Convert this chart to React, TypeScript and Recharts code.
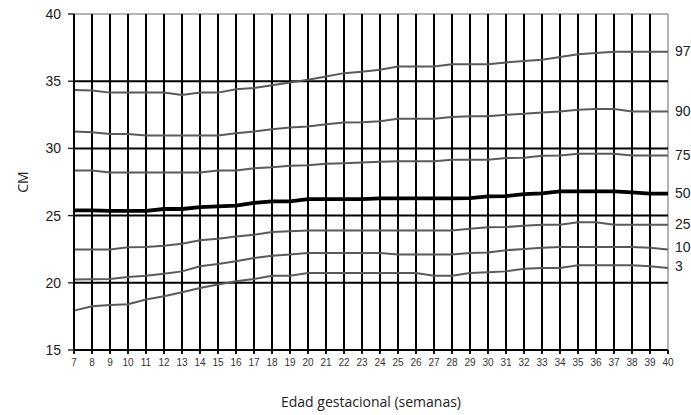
import React from "react";
import { LineChart, Line, XAxis, YAxis, ReferenceLine } from "recharts";

const weeks = [7, 8, 9, 10, 11, 12, 13, 14, 15, 16, 17, 18, 19, 20, 21, 22, 23, 24, 25, 26, 27, 28, 29, 30, 31, 32, 33, 34, 35, 36, 37, 38, 39, 40];

const p97 = [34.35, 34.3, 34.15, 34.15, 34.15, 34.15, 33.98, 34.15, 34.15, 34.4, 34.5, 34.7, 34.9, 35.1, 35.35, 35.6, 35.7, 35.85, 36.1, 36.1, 36.1, 36.26, 36.26, 36.26, 36.4, 36.5, 36.6, 36.8, 37.0, 37.1, 37.2, 37.2, 37.2, 37.2];
const p90 = [31.26, 31.2, 31.08, 31.08, 30.96, 30.96, 30.96, 30.96, 30.96, 31.13, 31.26, 31.43, 31.55, 31.63, 31.8, 31.93, 31.95, 32.02, 32.2, 32.2, 32.2, 32.33, 32.4, 32.4, 32.5, 32.57, 32.67, 32.75, 32.87, 32.94, 32.94, 32.75, 32.75, 32.75];
const p75 = [28.36, 28.36, 28.2, 28.2, 28.2, 28.2, 28.2, 28.2, 28.36, 28.36, 28.53, 28.6, 28.7, 28.75, 28.85, 28.9, 28.95, 29.0, 29.05, 29.05, 29.05, 29.15, 29.15, 29.15, 29.28, 29.3, 29.45, 29.47, 29.6, 29.6, 29.6, 29.47, 29.47, 29.47];
const p50 = [25.39, 25.39, 25.35, 25.35, 25.35, 25.49, 25.49, 25.63, 25.68, 25.74, 25.94, 26.06, 26.06, 26.23, 26.23, 26.23, 26.23, 26.28, 26.28, 26.28, 26.28, 26.28, 26.3, 26.43, 26.45, 26.6, 26.65, 26.8, 26.8, 26.8, 26.8, 26.73, 26.63, 26.63];
const p25 = [22.47, 22.47, 22.47, 22.64, 22.66, 22.76, 22.91, 23.16, 23.28, 23.45, 23.58, 23.78, 23.83, 23.9, 23.9, 23.9, 23.9, 23.9, 23.9, 23.9, 23.9, 23.9, 24.03, 24.13, 24.15, 24.25, 24.32, 24.32, 24.5, 24.5, 24.32, 24.32, 24.32, 24.32];
const p10 = [20.24, 20.26, 20.28, 20.43, 20.53, 20.68, 20.85, 21.23, 21.4, 21.6, 21.85, 22.02, 22.1, 22.22, 22.22, 22.22, 22.22, 22.22, 22.1, 22.1, 22.1, 22.1, 22.22, 22.25, 22.42, 22.52, 22.6, 22.67, 22.67, 22.67, 22.67, 22.67, 22.6, 22.47];
const p3 = [17.93, 18.25, 18.35, 18.4, 18.75, 19.0, 19.3, 19.62, 19.87, 20.11, 20.29, 20.53, 20.53, 20.73, 20.73, 20.73, 20.73, 20.73, 20.73, 20.73, 20.53, 20.53, 20.73, 20.78, 20.85, 21.05, 21.1, 21.1, 21.3, 21.3, 21.3, 21.3, 21.23, 21.1];

const yTicks = [15, 20, 25, 30, 35, 40];
const yGrid = [20, 25, 30, 35];
const xGrid = weeks.slice(1, weeks.length - 1);

const series = [
  { key: "p97", name: "97", values: p97 },
  { key: "p90", name: "90", values: p90 },
  { key: "p75", name: "75", values: p75 },
  { key: "p50", name: "50", values: p50 },
  { key: "p25", name: "25", values: p25 },
  { key: "p10", name: "10", values: p10 },
  { key: "p3", name: "3", values: p3 },
];

const data = weeks.map((w, i) => {
  const row: any = { week: w };
  series.forEach((s) => (row[s.key] = s.values[i]));
  return row;
});

const labelDy: Record<string, number> = { "97": -1, "90": 0, "75": 0, "50": -1, "25": -1, "10": -3, "3": -2 };

const makeLabel = (name: string) => (props: any) => {
  if (props.index !== weeks.length - 1) return <g />;
  return (
    <text
      x={props.x + 7}
      y={props.y + labelDy[name]}
      dy="0.35em"
      fontFamily="'Liberation Sans', Arial, sans-serif"
      fontSize={14}
      fill="#222"
      textAnchor="start"
    >
      {name}
    </text>
  );
};

const CMLabel = (props: any) => {
  const vb = props.viewBox || {};
  const cy = (vb.y || 0) + (vb.height || 0) / 2;
  return (
    <text
      x={22}
      y={cy}
      transform={`rotate(-90 22 ${cy})`}
      textAnchor="middle"
      dominantBaseline="central"
      fontFamily="'Open Sans', sans-serif"
      fontSize={14}
      fill="#222"
    >
      CM
    </text>
  );
};

export default function App() {
  return (
    <div style={{ position: "absolute", left: 0, top: 0, background: "#fff" }}>
      <LineChart width={691} height={415} data={data} margin={{ top: 14, right: 23, left: 0, bottom: 0 }}>
        <XAxis
          dataKey="week"
          type="number"
          domain={[7, 40]}
          ticks={weeks}
          interval={0}
          height={65}
          tickSize={4}
          tickMargin={5}
          axisLine={{ stroke: "#000", strokeWidth: 2 }}
          tickLine={{ stroke: "#000", strokeWidth: 1.8 }}
          tick={{ fontSize: 10, fill: "#333", fontFamily: "'Liberation Sans', Arial, sans-serif" }}
          label={{
            value: "Edad gestacional (semanas)",
            position: "insideBottom",
            offset: 8,
            fontSize: 14,
            fill: "#222",
            fontFamily: "'Open Sans', sans-serif",
          }}
        />
        <YAxis
          type="number"
          domain={[15, 40]}
          ticks={yTicks}
          interval={0}
          width={74}
          tickSize={6}
          tickMargin={7}
          axisLine={{ stroke: "#000", strokeWidth: 2 }}
          tickLine={{ stroke: "#222", strokeWidth: 1.4 }}
          tick={{ fontSize: 14, fill: "#222", fontFamily: "'Liberation Sans', Arial, sans-serif" }}
          label={<CMLabel />}
        />
        <ReferenceLine y={40} stroke="#9a9a9a" strokeWidth={1.5} />
        <ReferenceLine x={40} stroke="#9a9a9a" strokeWidth={1.5} />
        {yGrid.map((v) => (
          <ReferenceLine key={"h" + v} y={v} stroke="#000" strokeWidth={2} />
        ))}
        {xGrid.map((v) => (
          <ReferenceLine key={"v" + v} x={v} stroke="#000" strokeWidth={2} />
        ))}
        {series.map((s) => (
          <Line
            key={s.key}
            dataKey={s.key}
            type="linear"
            stroke={s.key === "p50" ? "#000" : "#5a5a5a"}
            strokeWidth={s.key === "p50" ? 3.8 : 2}
            dot={false}
            activeDot={false}
            isAnimationActive={false}
            label={makeLabel(s.name)}
          />
        ))}
      </LineChart>
    </div>
  );
}
